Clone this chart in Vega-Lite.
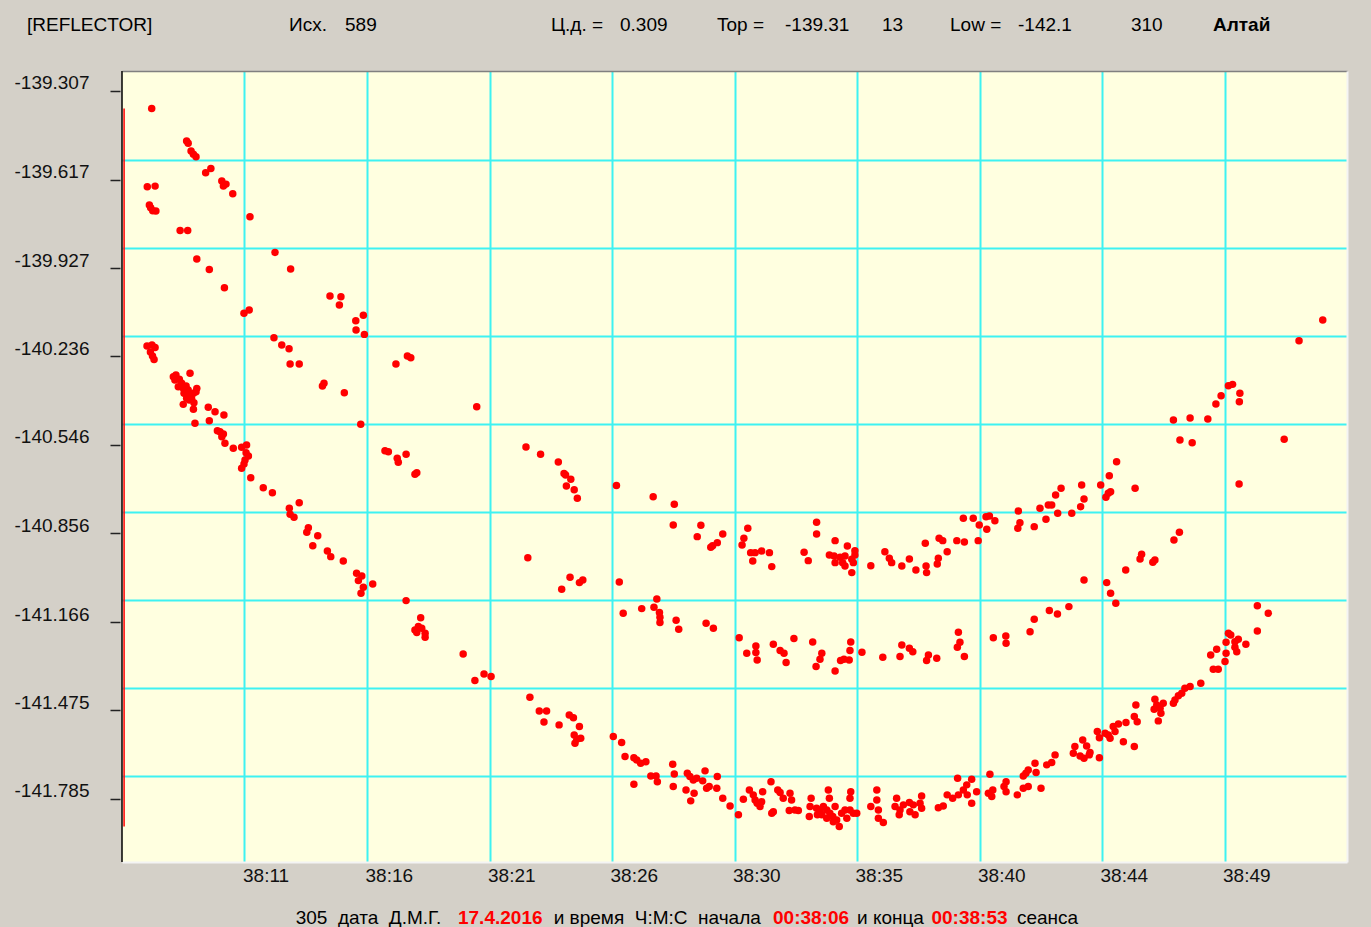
{
"$schema": "https://vega.github.io/schema/vega-lite/v6.json",
"width": 1225, "height": 791,
"autosize": {"type": "none"},
"padding": {"left": 122, "top": 71, "right": 24, "bottom": 65},
"background": "#d4d0c8",
"config": {"view": {"fill": "#ffffe0", "stroke": null}, "font": "Liberation Sans", "text": {"font": "Liberation Sans"}},
"datasets": {"pts": [
{"t":7.89,"v":-139.368},{"t":9.23,"v":-139.482},{"t":9.29,"v":-139.490},{"t":9.40,"v":-139.517},{"t":9.49,"v":-139.528},{"t":9.59,"v":-139.537},{"t":9.96,"v":-139.593},{"t":10.16,"v":-139.578},{"t":10.58,"v":-139.622},{"t":10.64,"v":-139.640},{"t":10.74,"v":-139.633},{"t":11.00,"v":-139.667},{"t":7.72,"v":-139.642},{"t":8.02,"v":-139.640},{"t":7.80,"v":-139.706},{"t":7.85,"v":-139.716},{"t":7.93,"v":-139.726},{"t":8.05,"v":-139.727},{"t":8.98,"v":-139.795},{"t":9.27,"v":-139.795},{"t":11.66,"v":-139.747},{"t":9.62,"v":-139.895},{"t":10.10,"v":-139.932},{"t":10.68,"v":-139.996},{"t":11.43,"v":-140.085},{"t":11.63,"v":-140.074},{"t":12.62,"v":-139.872},{"t":13.22,"v":-139.930},{"t":14.73,"v":-140.025},{"t":15.15,"v":-140.027},{"t":15.09,"v":-140.056},{"t":15.72,"v":-140.111},{"t":16.01,"v":-140.092},{"t":15.73,"v":-140.144},{"t":16.05,"v":-140.159},{"t":12.58,"v":-140.171},{"t":12.88,"v":-140.196},{"t":13.16,"v":-140.209},{"t":13.20,"v":-140.263},{"t":13.55,"v":-140.263},{"t":17.26,"v":-140.263},{"t":17.70,"v":-140.235},{"t":17.83,"v":-140.241},{"t":7.71,"v":-140.200},{"t":7.90,"v":-140.196},{"t":8.02,"v":-140.205},{"t":7.84,"v":-140.221},{"t":7.92,"v":-140.235},{"t":7.98,"v":-140.247},
{"t":9.36,"v":-140.295},{"t":8.72,"v":-140.307},{"t":8.82,"v":-140.301},{"t":8.78,"v":-140.319},{"t":8.95,"v":-140.316},{"t":9.04,"v":-140.330},{"t":8.91,"v":-140.342},{"t":9.10,"v":-140.348},{"t":9.21,"v":-140.340},{"t":9.29,"v":-140.354},{"t":9.13,"v":-140.365},{"t":9.36,"v":-140.371},{"t":9.49,"v":-140.365},{"t":9.62,"v":-140.348},{"t":9.59,"v":-140.360},{"t":9.42,"v":-140.383},{"t":9.23,"v":-140.383},{"t":9.33,"v":-140.389},{"t":9.10,"v":-140.404},{"t":9.51,"v":-140.398},{"t":9.49,"v":-140.421},{"t":10.06,"v":-140.414},{"t":10.32,"v":-140.430},{"t":10.66,"v":-140.441},{"t":10.10,"v":-140.461},{"t":9.55,"v":-140.470},{"t":10.41,"v":-140.496},{"t":10.51,"v":-140.500},{"t":10.64,"v":-140.508},{"t":10.58,"v":-140.517},{"t":10.70,"v":-140.540},{"t":11.02,"v":-140.558},{"t":11.34,"v":-140.554},{"t":11.53,"v":-140.546},{"t":11.51,"v":-140.573},{"t":11.60,"v":-140.585},{"t":11.47,"v":-140.599},{"t":11.43,"v":-140.613},{"t":11.34,"v":-140.628},{"t":11.69,"v":-140.661},{"t":12.17,"v":-140.696},{"t":12.52,"v":-140.713},{"t":13.55,"v":-140.748},{"t":13.17,"v":-140.768},{"t":13.20,"v":-140.789},{"t":13.35,"v":-140.799},{"t":13.90,"v":-140.836},{"t":13.84,"v":-140.852},{"t":14.26,"v":-140.864},{"t":14.07,"v":-140.899},{"t":14.63,"v":-140.917},{"t":14.76,"v":-140.937},{"t":15.24,"v":-140.952},{"t":15.75,"v":-140.995},{"t":15.95,"v":-141.005},{"t":15.82,"v":-141.021},{"t":16.01,"v":-141.044},{"t":15.92,"v":-141.065},{"t":16.37,"v":-141.033},{"t":14.44,"v":-140.340},{"t":14.50,"v":-140.330},{"t":15.28,"v":-140.363},{"t":15.91,"v":-140.474},{"t":16.84,"v":-140.566},{"t":16.97,"v":-140.570},{"t":17.31,"v":-140.593},{"t":17.35,"v":-140.607},{"t":17.65,"v":-140.579},{"t":18.06,"v":-140.643},{"t":17.99,"v":-140.649},{"t":20.36,"v":-140.412},{"t":17.65,"v":-141.091},{"t":18.21,"v":-141.151},{"t":17.99,"v":-141.194},{"t":18.12,"v":-141.182},{"t":18.25,"v":-141.188},{"t":18.38,"v":-141.205},{"t":18.38,"v":-141.219},{"t":18.06,"v":-141.203},{"t":19.84,"v":-141.278},{"t":20.29,"v":-141.371},{"t":20.64,"v":-141.348},{"t":20.91,"v":-141.357},
{"t":22.25,"v":-140.553},{"t":22.81,"v":-140.579},{"t":23.49,"v":-140.606},{"t":23.71,"v":-140.646},{"t":23.77,"v":-140.651},{"t":23.97,"v":-140.666},{"t":23.80,"v":-140.690},{"t":24.10,"v":-140.703},{"t":24.22,"v":-140.733},{"t":25.72,"v":-140.688},{"t":27.13,"v":-140.727},{"t":27.94,"v":-140.754},{"t":27.90,"v":-140.826},{"t":28.96,"v":-140.827},{"t":28.82,"v":-140.867},{"t":29.80,"v":-140.858},{"t":29.59,"v":-140.888},{"t":29.41,"v":-140.899},{"t":29.34,"v":-140.904},{"t":30.76,"v":-140.838},{"t":30.61,"v":-140.873},{"t":30.54,"v":-140.896},{"t":30.87,"v":-140.923},{"t":31.04,"v":-140.923},{"t":31.29,"v":-140.917},{"t":31.59,"v":-140.923},{"t":30.95,"v":-140.952},{"t":31.68,"v":-140.972},{"t":33.40,"v":-140.817},{"t":33.40,"v":-140.858},{"t":32.92,"v":-140.922},{"t":33.08,"v":-140.951},{"t":34.11,"v":-140.881},{"t":34.58,"v":-140.900},{"t":34.87,"v":-140.916},{"t":33.89,"v":-140.931},{"t":34.07,"v":-140.935},{"t":34.30,"v":-140.939},{"t":34.49,"v":-140.935},{"t":34.87,"v":-140.931},{"t":34.11,"v":-140.958},{"t":34.40,"v":-140.958},{"t":34.75,"v":-140.946},{"t":34.81,"v":-140.958},{"t":34.49,"v":-140.970},{"t":34.75,"v":-140.993},{"t":35.48,"v":-140.969},{"t":22.32,"v":-140.941},{"t":23.94,"v":-141.009},{"t":23.62,"v":-141.051},{"t":24.30,"v":-141.028},{"t":24.43,"v":-141.019},{"t":25.83,"v":-141.026},{"t":25.98,"v":-141.135},{"t":26.69,"v":-141.119},{"t":27.27,"v":-141.085},{"t":27.16,"v":-141.114},{"t":27.37,"v":-141.133},{"t":27.39,"v":-141.149},{"t":27.39,"v":-141.168},{"t":28.01,"v":-141.160},{"t":28.11,"v":-141.191},{"t":29.16,"v":-141.170},{"t":29.44,"v":-141.188},{"t":30.43,"v":-141.221},{"t":30.72,"v":-141.275},{"t":31.07,"v":-141.250},{"t":31.07,"v":-141.273},{"t":31.12,"v":-141.299},{"t":31.74,"v":-141.244},{"t":32.00,"v":-141.266},{"t":32.15,"v":-141.275},{"t":32.23,"v":-141.308},{"t":32.53,"v":-141.224},{"t":33.25,"v":-141.236},{"t":33.60,"v":-141.275},{"t":33.53,"v":-141.296},{"t":33.38,"v":-141.322},{"t":34.11,"v":-141.337},{"t":34.32,"v":-141.301},{"t":34.45,"v":-141.296},{"t":34.71,"v":-141.236},{"t":34.68,"v":-141.266},{"t":34.65,"v":-141.299},{"t":35.14,"v":-141.272},
{"t":22.40,"v":-141.429},{"t":22.76,"v":-141.477},{"t":23.04,"v":-141.477},{"t":22.94,"v":-141.516},{"t":23.52,"v":-141.526},{"t":23.91,"v":-141.491},{"t":24.07,"v":-141.501},{"t":24.30,"v":-141.532},{"t":24.10,"v":-141.561},{"t":24.20,"v":-141.576},{"t":24.35,"v":-141.573},{"t":24.13,"v":-141.590},{"t":25.60,"v":-141.567},{"t":25.92,"v":-141.588},{"t":26.05,"v":-141.637},{"t":26.39,"v":-141.641},{"t":26.50,"v":-141.649},{"t":26.65,"v":-141.660},{"t":26.85,"v":-141.655},{"t":26.39,"v":-141.734},{"t":27.04,"v":-141.705},{"t":27.24,"v":-141.705},{"t":27.29,"v":-141.725},{"t":27.88,"v":-141.664},{"t":27.94,"v":-141.698},{"t":27.90,"v":-141.742},{"t":28.44,"v":-141.695},{"t":28.54,"v":-141.707},{"t":28.67,"v":-141.719},{"t":28.80,"v":-141.713},{"t":29.12,"v":-141.687},{"t":29.03,"v":-141.722},{"t":29.59,"v":-141.707},{"t":28.39,"v":-141.754},{"t":28.70,"v":-141.765},{"t":28.57,"v":-141.792},{"t":29.18,"v":-141.748},{"t":29.28,"v":-141.742},{"t":29.57,"v":-141.748},{"t":29.80,"v":-141.783},{"t":30.08,"v":-141.810},{"t":30.40,"v":-141.841},{"t":30.59,"v":-141.786},{"t":30.82,"v":-141.754},{"t":30.97,"v":-141.771},{"t":31.04,"v":-141.789},{"t":31.12,"v":-141.800},{"t":31.29,"v":-141.795},{"t":31.33,"v":-141.760},{"t":31.23,"v":-141.812},{"t":31.65,"v":-141.725},{"t":31.91,"v":-141.754},{"t":32.00,"v":-141.763},{"t":32.12,"v":-141.783},{"t":31.68,"v":-141.835},{"t":31.74,"v":-141.830},{"t":32.38,"v":-141.765},{"t":32.44,"v":-141.789},{"t":32.35,"v":-141.826},{"t":32.57,"v":-141.824},{"t":32.70,"v":-141.826},{"t":33.19,"v":-141.783},{"t":33.15,"v":-141.812},{"t":33.12,"v":-141.847},{"t":33.40,"v":-141.818},{"t":33.53,"v":-141.830},{"t":33.66,"v":-141.812},{"t":33.79,"v":-141.824},{"t":33.85,"v":-141.754},{"t":33.89,"v":-141.783},{"t":33.91,"v":-141.835},{"t":34.02,"v":-141.847},{"t":34.11,"v":-141.812},{"t":34.17,"v":-141.859},{"t":34.27,"v":-141.882},{"t":34.36,"v":-141.835},{"t":34.49,"v":-141.824},{"t":34.56,"v":-141.853},{"t":34.68,"v":-141.824},{"t":34.71,"v":-141.760},{"t":34.68,"v":-141.783},{"t":34.81,"v":-141.835},{"t":34.94,"v":-141.835},{"t":33.60,"v":-141.841},{"t":33.79,"v":-141.853},{"t":34.04,"v":-141.865},{"t":33.43,"v":-141.841},{"t":35.48,"v":-141.812},{"t":35.71,"v":-141.754},{"t":35.71,"v":-141.789},{"t":35.77,"v":-141.824},
{"t":47.34,"v":-140.529},{"t":47.81,"v":-140.538},{"t":44.91,"v":-140.605},{"t":44.63,"v":-140.654},{"t":44.59,"v":-140.715},{"t":44.68,"v":-140.710},{"t":44.50,"v":-140.729},{"t":45.62,"v":-140.698},{"t":43.57,"v":-140.686},{"t":44.30,"v":-140.686},{"t":43.66,"v":-140.735},{"t":43.53,"v":-140.762},{"t":42.78,"v":-140.698},{"t":42.57,"v":-140.721},{"t":42.42,"v":-140.756},{"t":42.29,"v":-140.756},{"t":41.97,"v":-140.768},{"t":42.65,"v":-140.785},{"t":43.19,"v":-140.785},{"t":42.20,"v":-140.806},{"t":41.75,"v":-140.832},{"t":41.14,"v":-140.777},{"t":41.20,"v":-140.818},{"t":41.12,"v":-140.838},{"t":39.90,"v":-140.797},{"t":40.03,"v":-140.795},{"t":40.24,"v":-140.811},{"t":39.64,"v":-140.826},{"t":39.93,"v":-140.841},{"t":39.41,"v":-140.803},{"t":39.03,"v":-140.803},{"t":39.60,"v":-140.881},{"t":38.78,"v":-140.881},{"t":39.07,"v":-140.886},{"t":38.10,"v":-140.873},{"t":38.24,"v":-140.881},{"t":38.41,"v":-140.920},{"t":38.07,"v":-140.943},{"t":38.03,"v":-140.963},{"t":37.57,"v":-140.890},{"t":36.96,"v":-140.945},{"t":36.67,"v":-140.970},{"t":37.21,"v":-140.984},{"t":37.60,"v":-140.970},{"t":37.62,"v":-140.993},{"t":36.28,"v":-140.958},{"t":36.19,"v":-140.943},{"t":36.02,"v":-140.920},
{"t":47.11,"v":-140.879},{"t":47.32,"v":-140.852},{"t":45.87,"v":-140.929},{"t":45.81,"v":-140.945},{"t":46.30,"v":-140.957},{"t":46.38,"v":-140.949},{"t":45.26,"v":-140.984},{"t":43.66,"v":-141.019},{"t":44.53,"v":-141.028},{"t":44.68,"v":-141.065},{"t":44.88,"v":-141.100},{"t":43.08,"v":-141.112},{"t":42.64,"v":-141.138},{"t":42.33,"v":-141.126},{"t":41.75,"v":-141.156},{"t":41.59,"v":-141.200},{"t":40.18,"v":-141.221},{"t":40.66,"v":-141.215},{"t":40.67,"v":-141.240},{"t":38.84,"v":-141.202},{"t":38.90,"v":-141.237},{"t":38.80,"v":-141.254},{"t":39.07,"v":-141.287},{"t":38.01,"v":-141.293},{"t":37.69,"v":-141.281},{"t":37.62,"v":-141.301},{"t":36.67,"v":-141.246},{"t":36.60,"v":-141.287},{"t":36.96,"v":-141.258},{"t":37.09,"v":-141.270},{"t":35.94,"v":-141.289},
{"t":50.31,"v":-141.109},{"t":50.31,"v":-141.197},{"t":50.73,"v":-141.135},{"t":49.20,"v":-141.205},{"t":49.29,"v":-141.211},{"t":49.11,"v":-141.237},{"t":49.45,"v":-141.235},{"t":49.58,"v":-141.226},{"t":49.87,"v":-141.244},{"t":49.45,"v":-141.254},{"t":49.52,"v":-141.270},{"t":49.11,"v":-141.275},{"t":49.07,"v":-141.304},{"t":48.75,"v":-141.261},{"t":48.52,"v":-141.281},{"t":48.62,"v":-141.331},{"t":48.81,"v":-141.331},{"t":48.14,"v":-141.380},{"t":47.73,"v":-141.392},{"t":47.53,"v":-141.398},{"t":47.41,"v":-141.415},{"t":47.28,"v":-141.424},{"t":47.15,"v":-141.439},{"t":47.09,"v":-141.450},{"t":46.38,"v":-141.436},{"t":46.45,"v":-141.456},{"t":46.35,"v":-141.471},{"t":46.58,"v":-141.468},{"t":46.70,"v":-141.450},{"t":46.61,"v":-141.485},{"t":46.51,"v":-141.512},{"t":45.65,"v":-141.456},{"t":45.59,"v":-141.497},{"t":45.70,"v":-141.515},{"t":45.59,"v":-141.602},{"t":45.27,"v":-141.518},{"t":44.98,"v":-141.523},{"t":44.78,"v":-141.532},{"t":44.85,"v":-141.549},{"t":44.59,"v":-141.561},{"t":44.47,"v":-141.555},{"t":44.66,"v":-141.573},{"t":45.17,"v":-141.585},{"t":44.17,"v":-141.549},{"t":44.25,"v":-141.571},{"t":44.25,"v":-141.641},{"t":43.61,"v":-141.579},{"t":43.76,"v":-141.600},{"t":43.89,"v":-141.623},{"t":43.31,"v":-141.602},{"t":43.25,"v":-141.625},{"t":43.51,"v":-141.635},{"t":43.66,"v":-141.643},{"t":43.86,"v":-141.631},{"t":42.55,"v":-141.631},{"t":42.42,"v":-141.658},{"t":42.23,"v":-141.666},{"t":41.78,"v":-141.660},{"t":41.82,"v":-141.693},{"t":41.52,"v":-141.684},{"t":41.43,"v":-141.695},{"t":41.33,"v":-141.705},{"t":42.01,"v":-141.748},{"t":41.52,"v":-141.742},{"t":41.33,"v":-141.748},{"t":41.10,"v":-141.771},{"t":40.67,"v":-141.725},{"t":40.59,"v":-141.742},{"t":40.67,"v":-141.760},{"t":40.05,"v":-141.699},{"t":40.16,"v":-141.754},{"t":39.99,"v":-141.765},{"t":40.12,"v":-141.777},{"t":39.54,"v":-141.760},{"t":39.35,"v":-141.716},{"t":39.16,"v":-141.736},{"t":39.18,"v":-141.771},{"t":39.35,"v":-141.800},{"t":39.03,"v":-141.754},{"t":38.81,"v":-141.713},{"t":38.84,"v":-141.771},{"t":38.62,"v":-141.783},{"t":38.41,"v":-141.771},{"t":38.26,"v":-141.810},{"t":38.07,"v":-141.816},{"t":37.43,"v":-141.775},{"t":37.37,"v":-141.800},{"t":37.43,"v":-141.818},{"t":37.11,"v":-141.806},{"t":36.98,"v":-141.830},{"t":37.18,"v":-141.841},{"t":36.96,"v":-141.798},{"t":36.73,"v":-141.806},{"t":36.47,"v":-141.783},{"t":36.41,"v":-141.812},{"t":36.60,"v":-141.824},{"t":36.57,"v":-141.841},{"t":35.77,"v":-141.853},{"t":35.96,"v":-141.868},
{"t":52.82,"v":-140.109},{"t":51.91,"v":-140.181},{"t":49.20,"v":-140.339},{"t":49.36,"v":-140.334},{"t":49.64,"v":-140.365},{"t":49.62,"v":-140.395},{"t":48.92,"v":-140.374},{"t":48.72,"v":-140.403},{"t":47.09,"v":-140.459},{"t":47.73,"v":-140.452},{"t":48.41,"v":-140.455},{"t":51.34,"v":-140.526},{"t":49.61,"v":-140.683}
]},
"layer": [
{"data": {"name": "pts"},
 "mark": {"type": "circle", "size": 56, "color": "#ff0000", "opacity": 1},
 "encoding": {
  "x": {"field": "t", "type": "quantitative", "scale": {"domain": [6.75, 53.75], "nice": false, "zero": false},
   "axis": {"orient": "bottom", "values": [11.45, 16.15, 20.85, 25.55, 30.25, 34.95, 39.65, 44.35, 49.05], "labelExpr": "'38:' + format(round(datum.value), '02d')", "title": null, "grid": true, "gridColor": "#3ef2f2", "gridWidth": 2, "gridOpacity": 1, "ticks": false, "domain": true, "domainColor": "#f4f4f4", "domainWidth": 2, "labelAlign": "left", "labelOffset": -2, "labelPadding": 4, "labelFontSize": 19, "labelFont": "Liberation Sans", "labelColor": "#111111", "labelOverlap": false, "labelFlush": false}},
  "y": {"field": "v", "type": "quantitative", "scale": {"domain": [-142.006, -139.237], "nice": false, "zero": false},
   "axis": {"orient": "left", "values": [-139.307, -139.617, -139.927, -140.236, -140.546, -140.856, -141.166, -141.475, -141.785], "labelExpr": "'-' + format(abs(datum.value), '.3f')", "title": null, "grid": false, "domain": false, "offset": 2, "ticks": true, "tickSize": 10, "tickColor": "#222222", "tickWidth": 1.5, "labelPadding": 21, "labelOffset": -8, "labelFontSize": 19, "labelFont": "Liberation Sans", "labelColor": "#111111", "labelOverlap": false, "labelFlush": false}}
 }},
{"data": {"values": [{}]},
 "mark": {"type": "rule", "color": "#000000", "strokeWidth": 1.5},
 "encoding": {"x": {"datum": 6.75, "type": "quantitative", "scale": {"domain": [6.75, 53.75], "nice": false, "zero": false},
   "axis": {"orient": "top", "domain": true, "domainColor": "#808080", "domainWidth": 1.5, "ticks": false, "labels": false, "grid": false, "title": null}}}},
{"data": {"name": "pts"},
 "mark": {"type": "rule", "color": "#ff0000", "strokeWidth": 1.5},
 "encoding": {
  "x": {"datum": 6.83, "type": "quantitative", "scale": {"domain": [6.75, 53.75], "nice": false, "zero": false}, "axis": null},
  "y": {"aggregate": "max", "field": "v", "type": "quantitative", "scale": {"domain": [-142.006, -139.237], "nice": false, "zero": false},
   "axis": {"orient": "right", "values": [-139.5485, -139.8565, -140.1645, -140.4725, -140.7806, -141.0886, -141.3966, -141.7046], "grid": true, "gridColor": "#3ef2f2", "gridWidth": 2, "gridOpacity": 1, "domain": true, "domainColor": "#f4f4f4", "domainWidth": 2, "ticks": false, "labels": false, "title": null}},
  "y2": {"aggregate": "min", "field": "v"}
 }},
{"data": {"values": [{}]}, "mark": {"type": "text", "text": "[REFLECTOR]", "align": "left", "baseline": "middle", "fontSize": 19, "color": "#000000"},
 "encoding": {"x": {"datum": 3.105, "type": "quantitative", "scale": {"domain": [6.75, 53.75], "nice": false, "zero": false}, "axis": null}, "y": {"datum": -139.076, "type": "quantitative", "scale": {"domain": [-142.006, -139.237], "nice": false, "zero": false}, "axis": null}}},
{"data": {"values": [{}]}, "mark": {"type": "text", "text": "Исх.", "align": "left", "baseline": "middle", "fontSize": 19, "color": "#000000"},
 "encoding": {"x": {"datum": 13.157, "type": "quantitative", "scale": {"domain": [6.75, 53.75], "nice": false, "zero": false}, "axis": null}, "y": {"datum": -139.076, "type": "quantitative", "scale": {"domain": [-142.006, -139.237], "nice": false, "zero": false}, "axis": null}}},
{"data": {"values": [{}]}, "mark": {"type": "text", "text": "589", "align": "left", "baseline": "middle", "fontSize": 19, "color": "#000000"},
 "encoding": {"x": {"datum": 15.306, "type": "quantitative", "scale": {"domain": [6.75, 53.75], "nice": false, "zero": false}, "axis": null}, "y": {"datum": -139.076, "type": "quantitative", "scale": {"domain": [-142.006, -139.237], "nice": false, "zero": false}, "axis": null}}},
{"data": {"values": [{}]}, "mark": {"type": "text", "text": "Ц.д. =", "align": "left", "baseline": "middle", "fontSize": 19, "color": "#000000"},
 "encoding": {"x": {"datum": 23.209, "type": "quantitative", "scale": {"domain": [6.75, 53.75], "nice": false, "zero": false}, "axis": null}, "y": {"datum": -139.076, "type": "quantitative", "scale": {"domain": [-142.006, -139.237], "nice": false, "zero": false}, "axis": null}}},
{"data": {"values": [{}]}, "mark": {"type": "text", "text": "0.309", "align": "left", "baseline": "middle", "fontSize": 19, "color": "#000000"},
 "encoding": {"x": {"datum": 25.857, "type": "quantitative", "scale": {"domain": [6.75, 53.75], "nice": false, "zero": false}, "axis": null}, "y": {"datum": -139.076, "type": "quantitative", "scale": {"domain": [-142.006, -139.237], "nice": false, "zero": false}, "axis": null}}},
{"data": {"values": [{}]}, "mark": {"type": "text", "text": "Top =", "align": "left", "baseline": "middle", "fontSize": 19, "color": "#000000"},
 "encoding": {"x": {"datum": 29.578, "type": "quantitative", "scale": {"domain": [6.75, 53.75], "nice": false, "zero": false}, "axis": null}, "y": {"datum": -139.076, "type": "quantitative", "scale": {"domain": [-142.006, -139.237], "nice": false, "zero": false}, "axis": null}}},
{"data": {"values": [{}]}, "mark": {"type": "text", "text": "-139.31", "align": "left", "baseline": "middle", "fontSize": 19, "color": "#000000"},
 "encoding": {"x": {"datum": 32.187, "type": "quantitative", "scale": {"domain": [6.75, 53.75], "nice": false, "zero": false}, "axis": null}, "y": {"datum": -139.076, "type": "quantitative", "scale": {"domain": [-142.006, -139.237], "nice": false, "zero": false}, "axis": null}}},
{"data": {"values": [{}]}, "mark": {"type": "text", "text": "13", "align": "left", "baseline": "middle", "fontSize": 19, "color": "#000000"},
 "encoding": {"x": {"datum": 35.909, "type": "quantitative", "scale": {"domain": [6.75, 53.75], "nice": false, "zero": false}, "axis": null}, "y": {"datum": -139.076, "type": "quantitative", "scale": {"domain": [-142.006, -139.237], "nice": false, "zero": false}, "axis": null}}},
{"data": {"values": [{}]}, "mark": {"type": "text", "text": "Low =", "align": "left", "baseline": "middle", "fontSize": 19, "color": "#000000"},
 "encoding": {"x": {"datum": 38.518, "type": "quantitative", "scale": {"domain": [6.75, 53.75], "nice": false, "zero": false}, "axis": null}, "y": {"datum": -139.076, "type": "quantitative", "scale": {"domain": [-142.006, -139.237], "nice": false, "zero": false}, "axis": null}}},
{"data": {"values": [{}]}, "mark": {"type": "text", "text": "-142.1", "align": "left", "baseline": "middle", "fontSize": 19, "color": "#000000"},
 "encoding": {"x": {"datum": 41.127, "type": "quantitative", "scale": {"domain": [6.75, 53.75], "nice": false, "zero": false}, "axis": null}, "y": {"datum": -139.076, "type": "quantitative", "scale": {"domain": [-142.006, -139.237], "nice": false, "zero": false}, "axis": null}}},
{"data": {"values": [{}]}, "mark": {"type": "text", "text": "310", "align": "left", "baseline": "middle", "fontSize": 19, "color": "#000000"},
 "encoding": {"x": {"datum": 45.462, "type": "quantitative", "scale": {"domain": [6.75, 53.75], "nice": false, "zero": false}, "axis": null}, "y": {"datum": -139.076, "type": "quantitative", "scale": {"domain": [-142.006, -139.237], "nice": false, "zero": false}, "axis": null}}},
{"data": {"values": [{}]}, "mark": {"type": "text", "text": "Алтай", "align": "left", "baseline": "middle", "fontSize": 19, "fontWeight": "bold", "color": "#000000"},
 "encoding": {"x": {"datum": 48.608, "type": "quantitative", "scale": {"domain": [6.75, 53.75], "nice": false, "zero": false}, "axis": null}, "y": {"datum": -139.076, "type": "quantitative", "scale": {"domain": [-142.006, -139.237], "nice": false, "zero": false}, "axis": null}}},
{"data": {"values": [{}]}, "mark": {"type": "text", "text": "305\u00a0\u00a0дата\u00a0\u00a0Д.М.Г.", "align": "left", "baseline": "middle", "fontSize": 19, "color": "#000000"},
 "encoding": {"x": {"datum": 13.414, "type": "quantitative", "scale": {"domain": [6.75, 53.75], "nice": false, "zero": false}, "axis": null}, "y": {"datum": -142.2015, "type": "quantitative", "scale": {"domain": [-142.006, -139.237], "nice": false, "zero": false}, "axis": null}}},
{"data": {"values": [{}]}, "mark": {"type": "text", "text": "17.4.2016", "align": "left", "baseline": "middle", "fontSize": 19, "fontWeight": "bold", "color": "#ff0000"},
 "encoding": {"x": {"datum": 19.641, "type": "quantitative", "scale": {"domain": [6.75, 53.75], "nice": false, "zero": false}, "axis": null}, "y": {"datum": -142.2015, "type": "quantitative", "scale": {"domain": [-142.006, -139.237], "nice": false, "zero": false}, "axis": null}}},
{"data": {"values": [{}]}, "mark": {"type": "text", "text": "и время\u00a0\u00a0Ч:М:С\u00a0\u00a0начала", "align": "left", "baseline": "middle", "fontSize": 19, "color": "#000000"},
 "encoding": {"x": {"datum": 23.313, "type": "quantitative", "scale": {"domain": [6.75, 53.75], "nice": false, "zero": false}, "axis": null}, "y": {"datum": -142.2015, "type": "quantitative", "scale": {"domain": [-142.006, -139.237], "nice": false, "zero": false}, "axis": null}}},
{"data": {"values": [{}]}, "mark": {"type": "text", "text": "00:38:06", "align": "left", "baseline": "middle", "fontSize": 19, "fontWeight": "bold", "color": "#ff0000"},
 "encoding": {"x": {"datum": 31.727, "type": "quantitative", "scale": {"domain": [6.75, 53.75], "nice": false, "zero": false}, "axis": null}, "y": {"datum": -142.2015, "type": "quantitative", "scale": {"domain": [-142.006, -139.237], "nice": false, "zero": false}, "axis": null}}},
{"data": {"values": [{}]}, "mark": {"type": "text", "text": "и конца", "align": "left", "baseline": "middle", "fontSize": 19, "color": "#000000"},
 "encoding": {"x": {"datum": 34.95, "type": "quantitative", "scale": {"domain": [6.75, 53.75], "nice": false, "zero": false}, "axis": null}, "y": {"datum": -142.2015, "type": "quantitative", "scale": {"domain": [-142.006, -139.237], "nice": false, "zero": false}, "axis": null}}},
{"data": {"values": [{}]}, "mark": {"type": "text", "text": "00:38:53", "align": "left", "baseline": "middle", "fontSize": 19, "fontWeight": "bold", "color": "#ff0000"},
 "encoding": {"x": {"datum": 37.808, "type": "quantitative", "scale": {"domain": [6.75, 53.75], "nice": false, "zero": false}, "axis": null}, "y": {"datum": -142.2015, "type": "quantitative", "scale": {"domain": [-142.006, -139.237], "nice": false, "zero": false}, "axis": null}}},
{"data": {"values": [{}]}, "mark": {"type": "text", "text": "сеанса", "align": "left", "baseline": "middle", "fontSize": 19, "color": "#000000"},
 "encoding": {"x": {"datum": 41.088, "type": "quantitative", "scale": {"domain": [6.75, 53.75], "nice": false, "zero": false}, "axis": null}, "y": {"datum": -142.2015, "type": "quantitative", "scale": {"domain": [-142.006, -139.237], "nice": false, "zero": false}, "axis": null}}}
]
}
